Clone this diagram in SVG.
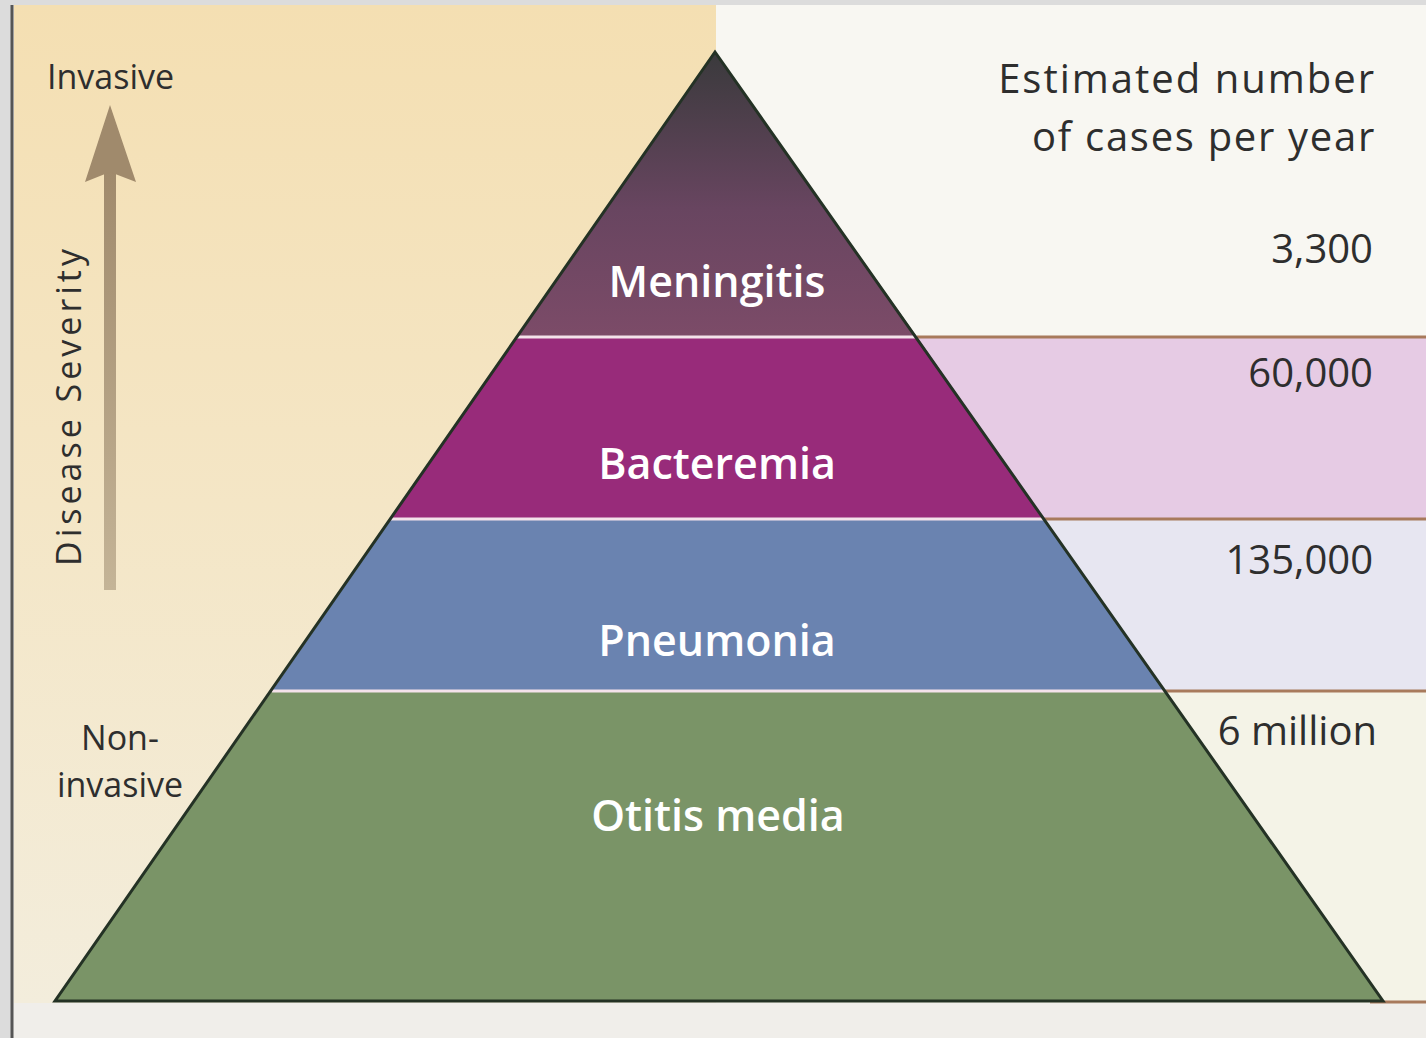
<svg xmlns="http://www.w3.org/2000/svg" width="1426" height="1038" viewBox="0 0 1426 1038">
<defs>
<linearGradient id="bgLeft" x1="0" y1="0" x2="0" y2="1">
<stop offset="0" stop-color="#f4dfb2"/>
<stop offset="0.5" stop-color="#f4e6c6"/>
<stop offset="1" stop-color="#f3eddc"/>
</linearGradient>
<linearGradient id="men" x1="0" y1="52" x2="0" y2="337" gradientUnits="userSpaceOnUse">
<stop offset="0" stop-color="#3a3a3c"/>
<stop offset="0.55" stop-color="#684560"/>
<stop offset="1" stop-color="#7c4b68"/>
</linearGradient>
<linearGradient id="arrowG" x1="0" y1="0" x2="0" y2="1">
<stop offset="0" stop-color="#a08a6c"/>
<stop offset="1" stop-color="#c4b497"/>
</linearGradient>
<style>
.lbl{font-family:"Open Sans","Liberation Sans",sans-serif;font-weight:600;font-size:43px;fill:#ffffff;text-anchor:middle}
.num{font-family:"Open Sans","Liberation Sans",sans-serif;font-size:40px;fill:#2e2e2e;text-anchor:end}
.side{font-family:"Open Sans","Liberation Sans",sans-serif;font-size:34px;fill:#2e2e2e}
.sep{stroke:#f4e2ea;stroke-width:3}
.band{stroke:#a87a5c;stroke-width:3}
</style>
</defs>
<rect x="0" y="0" width="1426" height="1038" fill="#dcdcdc"/>
<rect x="12" y="5" width="1414" height="1033" fill="#f0eeea"/>
<rect x="14" y="5" width="702" height="998" fill="url(#bgLeft)"/>
<rect x="716" y="5" width="710" height="332" fill="#f8f7f2"/>
<rect x="716" y="337" width="710" height="182" fill="#e6cbe4"/>
<rect x="716" y="519" width="710" height="172" fill="#e7e6f1"/>
<rect x="716" y="691" width="710" height="312" fill="#f4f3e7"/>
<line x1="12" y1="5" x2="12" y2="1038" stroke="#555" stroke-width="3"/>
<g id="bands">
<line class="band" x1="900" y1="337" x2="1426" y2="337"/>
<line class="band" x1="1030" y1="519" x2="1426" y2="519"/>
<line class="band" x1="1150" y1="691" x2="1426" y2="691"/>
<line class="band" x1="1370" y1="1002" x2="1426" y2="1002"/>
</g>
<g id="axis">
<rect x="104" y="170" width="12" height="420" fill="url(#arrowG)"/>
<polygon points="110,105 136,182 110,172 85,182" fill="#a08a6c"/>
<text class="side" x="47" y="89">Invasive</text>
<text class="side" x="120" y="750" text-anchor="middle">Non-</text>
<text class="side" x="120" y="797" text-anchor="middle">invasive</text>
<text class="side" font-size="48" letter-spacing="4" transform="translate(81,566) rotate(-90)">Disease Severity</text>
</g>
<g id="pyramid">
<g id="meningitis">
<polygon points="715,52 917,337 517,337" fill="url(#men)"/>
<text class="lbl" x="717" y="297">Meningitis</text>
</g>
<g id="bacteremia">
<polygon points="517,337 917,337 1044,519 391,519" fill="#982b7a"/>
<text class="lbl" x="717" y="479">Bacteremia</text>
</g>
<g id="pneumonia">
<polygon points="391,519 1044,519 1165,691 272,691" fill="#6a83b0"/>
<text class="lbl" x="717" y="656">Pneumonia</text>
</g>
<g id="otitis">
<polygon points="272,691 1165,691 1383,1001 55,1001" fill="#7a9467"/>
<text class="lbl" x="718" y="831">Otitis media</text>
</g>
<line class="sep" x1="517" y1="337" x2="917" y2="337"/>
<line class="sep" x1="391" y1="519" x2="1044" y2="519"/>
<line class="sep" x1="272" y1="691" x2="1165" y2="691" stroke="#dfeaf0"/>
<polygon points="715,52 1383,1001 55,1001" fill="none" stroke="#243225" stroke-width="3" stroke-linejoin="miter"/>
</g>
<g id="numbers">
<text class="num" x="1376" y="93" font-size="45" letter-spacing="2">Estimated number</text>
<text class="num" x="1376" y="151" font-size="45" letter-spacing="1.7">of cases per year</text>
<text class="num" x="1373" y="263">3,300</text>
<text class="num" x="1373" y="387">60,000</text>
<text class="num" x="1373" y="574">135,000</text>
<text class="num" x="1377" y="745">6 million</text>
</g>
</svg>
